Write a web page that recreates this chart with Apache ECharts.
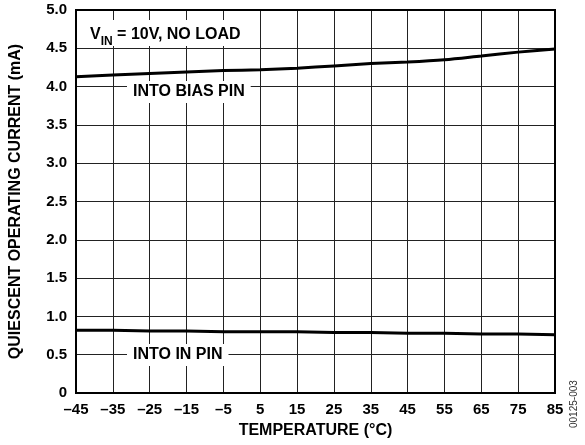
<!DOCTYPE html>
<html><head><meta charset="utf-8">
<script src="https://cdn.jsdelivr.net/npm/echarts@6/dist/echarts.min.js"></script>
<style>html,body{margin:0;padding:0;background:#fff}#c{width:585px;height:445px}</style>
</head><body><div id="c"></div>
<script>
const temperatures = ['–45','–35','–25','–15','–5','5','15','25','35','45','55','65','75','85'];
const biasPinCurrent = [4.13,4.15,4.17,4.19,4.21,4.22,4.24,4.27,4.30,4.32,4.35,4.40,4.45,4.49];
const inPinCurrent = [0.82,0.82,0.81,0.81,0.80,0.80,0.80,0.79,0.79,0.78,0.78,0.77,0.77,0.76];
const yTicks = [0,0.5,1,1.5,2,2.5,3,3.5,4,4.5,5];

const F = 'Liberation Sans, Arial, sans-serif';
const chart = echarts.init(document.getElementById('c'));
chart.setOption({
  animation:false,
  grid:{left:76,right:30,top:10,bottom:52,show:true,borderColor:'#000',borderWidth:2,z:3},
  xAxis:{type:'category',data:temperatures,boundaryGap:false,
    name:'TEMPERATURE (°C)',nameLocation:'middle',nameGap:30,
    nameTextStyle:{fontFamily:F,fontWeight:'bold',fontSize:16,color:'#000'},
    axisLine:{show:false},axisTick:{show:false},
    axisLabel:{fontFamily:F,fontWeight:'bold',fontSize:15,color:'#000',margin:9},
    splitLine:{show:true,lineStyle:{color:'#222',width:1}}},
  yAxis:{type:'value',min:yTicks[0],max:yTicks[yTicks.length-1],interval:0.5,
    name:'QUIESCENT OPERATING CURRENT (mA)',nameLocation:'middle',nameGap:52,
    nameTextStyle:{fontFamily:F,fontWeight:'bold',fontSize:16,color:'#000'},
    axisLine:{show:false},axisTick:{show:false},
    axisLabel:{fontFamily:F,fontWeight:'bold',fontSize:15,color:'#000',margin:9,
      formatter:v=>v===0?'0':v.toFixed(1)},
    splitLine:{show:true,lineStyle:{color:'#222',width:1}}},
  series:[
    {type:'line',data:biasPinCurrent,showSymbol:false,smooth:0.3,lineStyle:{color:'#000',width:3},z:4},
    {type:'line',data:inPinCurrent,showSymbol:false,lineStyle:{color:'#000',width:3},z:4}
  ],
  graphic:[
    {type:'text',left:84,top:20,z:10,style:{
      text:'{b|V}{s|IN}{b| = 10V, NO LOAD}',
      backgroundColor:'#fff',padding:[3,6],
      rich:{b:{fontFamily:F,fontWeight:'bold',fontSize:16,fill:'#000',verticalAlign:'bottom',lineHeight:20},
            s:{fontFamily:F,fontWeight:'bold',fontSize:12,fill:'#000',verticalAlign:'bottom',lineHeight:20,padding:[0,0,-5,0]}}}},
    {type:'text',left:127,top:81,z:10,style:{text:'INTO BIAS PIN',font:'bold 16px '+F,fill:'#000',backgroundColor:'#fff',padding:[3,6]}},
    {type:'text',left:127,top:344,z:10,style:{text:'INTO IN PIN',font:'bold 16px '+F,fill:'#000',backgroundColor:'#fff',padding:[3,6]}},
    {type:'text',x:574,y:428,rotation:Math.PI/2,z:10,style:{text:'00125-003',font:'10px '+F,fill:'#333',align:'left',verticalAlign:'middle'}}
  ]
});
</script></body></html>
